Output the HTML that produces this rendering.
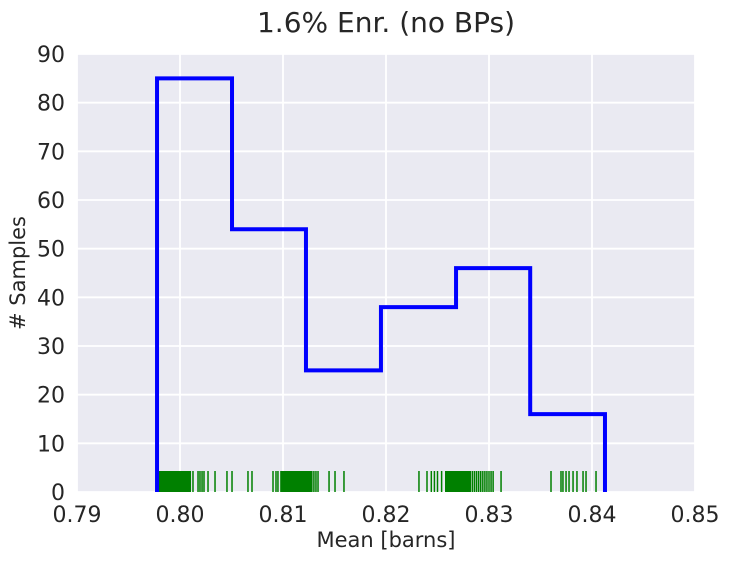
<!DOCTYPE html>
<html><head><meta charset="utf-8"><style>
body{margin:0;background:#fff;font-family:"Liberation Sans","DejaVu Sans",sans-serif}
svg text{font-family:"DejaVu Sans","Liberation Sans",sans-serif;fill:#262626}
</style></head><body>
<svg id="chart" width="729" height="560" xmlns="http://www.w3.org/2000/svg"></svg>
<script>
const binEdges=[0.79777,0.80505,0.81223,0.81951,0.8268,0.8340,0.84126];
const binCounts=[85,54,25,38,46,16];
const xTicks=[0.79,0.80,0.81,0.82,0.83,0.84,0.85];
const xTickLabels=["0.79","0.80","0.81","0.82","0.83","0.84","0.85"];
const yTicks=[0,10,20,30,40,50,60,70,80,90];
const rugValues=[0.7979,0.7980,0.7981,0.7982,0.7983,0.7984,0.7985,0.7986,0.7987,0.7988,0.7989,0.7990,0.7991,0.7992,0.7993,0.7994,0.7995,0.7996,0.7997,0.7998,0.7999,0.8000,0.8001,0.8002,0.8003,0.8004,0.8005,0.8006,0.8007,0.8008,0.8009,0.8010,0.80126,0.80175,0.80194,0.80214,0.80233,0.80272,0.8034,0.80456,0.80505,
0.8066,0.80699,0.80903,0.80932,0.80951,0.8098,0.8099,0.8100,0.8101,0.8102,0.8103,0.8104,0.8105,0.8106,0.8107,0.8108,0.8109,0.8110,0.8111,0.8112,0.8113,0.8114,0.8115,0.8116,0.8117,0.8118,0.8119,0.8120,0.8121,0.8122,0.8123,0.8124,0.8125,0.8126,0.8127,0.8128,0.8130,0.8132,0.8134,0.81447,0.81505,0.81592,
0.8232,0.82398,0.8244,0.8247,0.8250,0.8254,0.8258,0.8259,0.8260,0.8261,0.8262,0.8263,0.8264,0.8265,0.8266,0.8267,0.8268,0.8269,0.8270,0.8271,0.8272,0.8273,0.8274,0.8275,0.8276,0.8277,0.8278,0.8279,0.8280,0.8281,0.8282,0.8284,0.8286,0.8288,0.8290,0.8292,0.8294,0.8296,0.8298,0.8300,0.8302,0.8304,0.83117,
0.83602,0.83699,0.83718,0.83748,0.83777,0.83816,0.83854,0.83913,0.83942,0.84039,0.84126];
const L=77,R=695,T=54,B=492;
const xs=v=>L+(v-0.79)/0.06*(R-L);
const ys=v=>B-v/90*(B-T);
const svg=document.getElementById('chart');
const NS="http://www.w3.org/2000/svg";
function mk(tag,attrs,parent){const e=document.createElementNS(NS,tag);for(const k in attrs)e.setAttribute(k,attrs[k]);(parent||svg).appendChild(e);return e;}
const bg=mk('rect',{x:L,y:T,width:R-L,height:B-T,fill:'#eaeaf2'});


xTicks.forEach((t,i)=>{
 const g=mk('line',{x1:xs(t),x2:xs(t),y1:T,y2:B,stroke:'#fff','stroke-width':1.8});
 
 
 const tx=mk('text',{x:xs(t),y:B+30,'text-anchor':'middle','font-size':22});
 tx.textContent=xTickLabels[i];
 
 
});
yTicks.forEach(t=>{
 const g=mk('line',{x1:L,x2:R,y1:ys(t),y2:ys(t),stroke:'#fff','stroke-width':1.8});
 
 
 const tx=mk('text',{x:L-12,y:ys(t)+8,'text-anchor':'end','font-size':22});
 tx.textContent=String(t);
 
 
});
rugValues.forEach(v=>{
 const r=mk('line',{x1:xs(v),x2:xs(v),y1:B-21,y2:B,stroke:'#008000','stroke-width':1.5});
 
 
});
let d='M'+xs(binEdges[0])+','+ys(0);
binCounts.forEach((c,i)=>{d+=' L'+xs(binEdges[i])+','+ys(c)+' L'+xs(binEdges[i+1])+','+ys(c);});
d+=' L'+xs(binEdges[binEdges.length-1])+','+ys(0);
const p=mk('path',{d:d,fill:'none',stroke:'#0000ff','stroke-width':4,'stroke-linejoin':'miter'});


const title=mk('text',{x:(L+R)/2,y:32,'text-anchor':'middle','font-size':28});
title.textContent='1.6% Enr. (no BPs)';


const xl=mk('text',{x:(L+R)/2,y:547,'text-anchor':'middle','font-size':21});
xl.textContent='Mean [barns]';


const yl=mk('text',{x:0,y:0,'text-anchor':'middle','font-size':21,transform:'translate(25,'+((T+B)/2)+') rotate(-90)'});
yl.textContent='# Samples';


</script>
</body></html>
